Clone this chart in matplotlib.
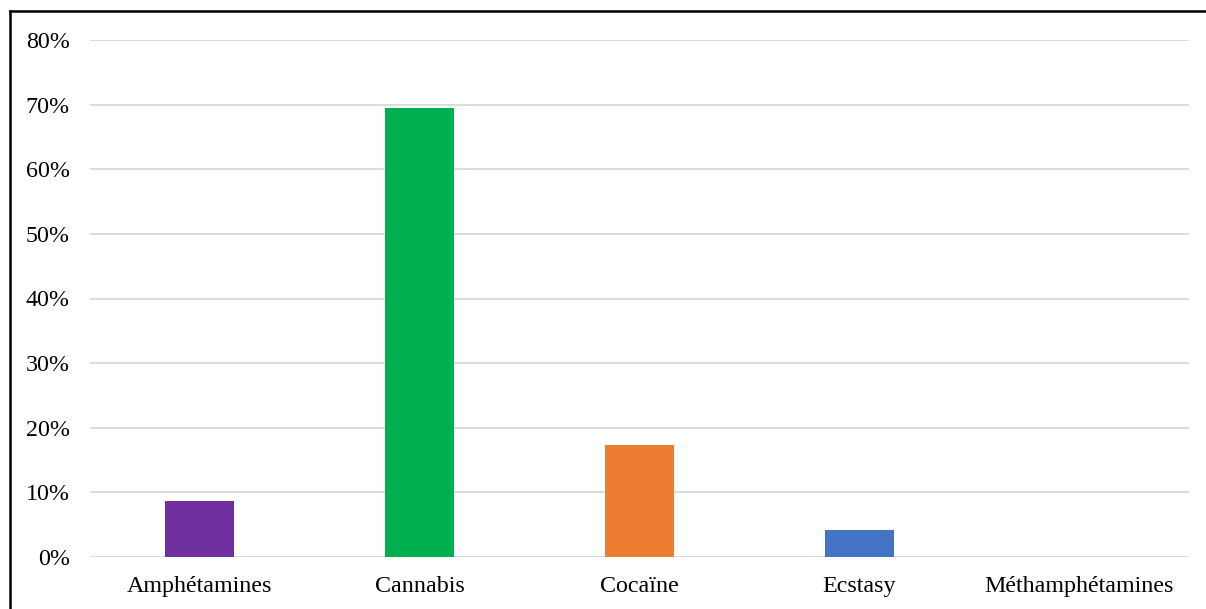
import matplotlib
matplotlib.use("Agg")
import matplotlib.pyplot as plt
from matplotlib.lines import Line2D
from matplotlib.ticker import FuncFormatter

categories = ["Amphétamines", "Cannabis", "Cocaïne", "Ecstasy", "Méthamphétamines"]
values = [8.7, 69.5, 17.3, 4.2, 0.0]
colors = ["#7030A0", "#00B050", "#ED7D31", "#4472C4", "#A5A5A5"]
yticks = [0, 10, 20, 30, 40, 50, 60, 70, 80]

plt.rcParams['font.family'] = ['Liberation Serif', 'DejaVu Serif']

W, H = 1206, 609
fig = plt.figure(figsize=(W / 100, H / 100), dpi=100)
ax = fig.add_axes([90 / W, (H - 557) / H, (1189 - 90) / W, (557 - 40) / H])

x = list(range(len(categories)))
ax.bar(x, values, width=0.314, color=colors, zorder=3)
ax.set_xlim(-0.5, len(categories) - 0.5)
ax.set_ylim(0, 80)
ax.set_yticks(yticks)
ax.yaxis.set_major_formatter(FuncFormatter(lambda v, p: f"{v:.0f}%"))
ax.set_xticks(x)
ax.set_xticklabels(categories)
ax.grid(axis='y', color='#D9D9D9', linewidth=1.3, zorder=0)
for s in ax.spines.values():
    s.set_visible(False)
ax.tick_params(axis='both', length=0, labelsize=17.3, colors='black')
ax.tick_params(axis='y', pad=14.4)
ax.tick_params(axis='x', pad=14)

fig.add_artist(Line2D([9.5 / W, 1], [1 - 11 / H, 1 - 11 / H], color='black', linewidth=1.8))
fig.add_artist(Line2D([9.5 / W, 9.5 / W], [0, 1 - 11 / H], color='black', linewidth=1.8))

fig.savefig("out.png", dpi=100)
